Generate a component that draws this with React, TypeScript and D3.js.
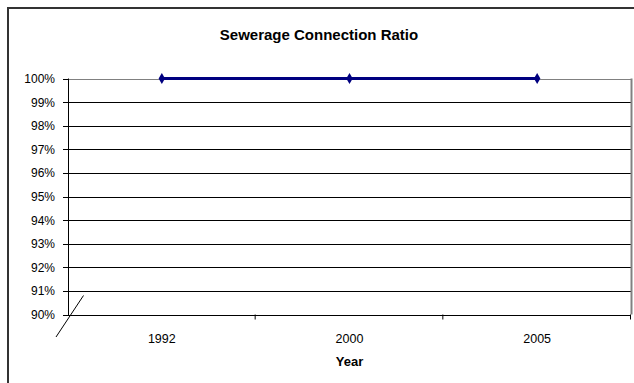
import React from "react";
import * as d3 from "d3";

const years = ["1992", "2000", "2005"];
const ratio = [1.0, 1.0, 1.0];
const yTicks = [0.9, 0.91, 0.92, 0.93, 0.94, 0.95, 0.96, 0.97, 0.98, 0.99, 1.0];

const W = 634;
const H = 383;
const plot = { left: 68, right: 631, top: 78.5, bottom: 314.5 };
const font = "Liberation Sans, Arial, sans-serif";

export default function App() {
  const x = d3.scaleBand<string>().domain(years).range([plot.left, plot.right]);
  const y = d3.scaleLinear().domain([0.9, 1.0]).range([plot.bottom, plot.top]);
  const fmt = d3.format(".0%");
  const line = d3
    .line<number>()
    .x((_, i) => (x(years[i]) as number) + x.bandwidth() / 2)
    .y((d) => y(d));

  const boundaries = years.map((yr) => (x(yr) as number) + x.bandwidth());
  const diamond = d3.symbol(d3.symbolDiamond, 36)();

  return (
    <svg width={W} height={H} style={{ position: "absolute", left: 0, top: 0 }}>
      <rect x={0} y={0} width={W} height={H} fill="#fff" />
      {/* chart area frame */}
      <rect x={8} y={8} width={W + 20} height={H + 20} fill="none" stroke="#333" strokeWidth={2} />

      <text x={319} y={40} textAnchor="middle" fontFamily={font} fontSize={15} fontWeight="bold">
        Sewerage Connection Ratio
      </text>

      {/* gridlines */}
      {yTicks.map((t) => (
        <line
          key={t}
          x1={plot.left}
          x2={plot.right}
          y1={Math.round(y(t)) + 0.5}
          y2={Math.round(y(t)) + 0.5}
          stroke={t === 1.0 ? "#808080" : "#000"}
          strokeWidth={1}
        />
      ))}
      {/* plot border right */}
      <line x1={plot.right + 0.5} x2={plot.right + 0.5} y1={plot.top} y2={plot.bottom} stroke="#808080" strokeWidth={2} />

      {/* y axis */}
      <line x1={plot.left + 0.5} x2={plot.left + 0.5} y1={plot.top} y2={plot.bottom + 0.5} stroke="#000" />
      {yTicks.map((t) => (
        <g key={"yt" + t}>
          <line x1={plot.left - 5} x2={plot.left} y1={Math.round(y(t)) + 0.5} y2={Math.round(y(t)) + 0.5} stroke="#000" />
          <text x={55} y={y(t) + 4.5} textAnchor="end" fontFamily={font} fontSize={12}>
            {fmt(t)}
          </text>
        </g>
      ))}

      {/* x axis */}
      <line x1={plot.left} x2={plot.right} y1={Math.round(plot.bottom) + 0.5} y2={Math.round(plot.bottom) + 0.5} stroke="#000" />
      {boundaries.map((b, i) => (
        <line key={"xt" + i} x1={b - 0.5} x2={b - 0.5} y1={plot.bottom} y2={plot.bottom + 5} stroke="#000" />
      ))}
      {years.map((yr) => (
        <text
          key={yr}
          x={(x(yr) as number) + x.bandwidth() / 2}
          y={343}
          textAnchor="middle"
          fontFamily={font}
          fontSize={12.5}
        >
          {yr}
        </text>
      ))}
      <text x={(plot.left + plot.right) / 2} y={366} textAnchor="middle" fontFamily={font} fontSize={13} fontWeight="bold">
        Year
      </text>

      {/* axis break mark */}
      <line x1={56} y1={337} x2={83.5} y2={295.5} stroke="#000" strokeWidth={1} />

      {/* series */}
      <path d={line(ratio) || ""} fill="none" stroke="#000080" strokeWidth={3} />
      {ratio.map((v, i) => (
        <path
          key={"m" + i}
          d={diamond || ""}
          transform={`translate(${(x(years[i]) as number) + x.bandwidth() / 2},${y(v)})`}
          fill="#000080"
        />
      ))}
    </svg>
  );
}
